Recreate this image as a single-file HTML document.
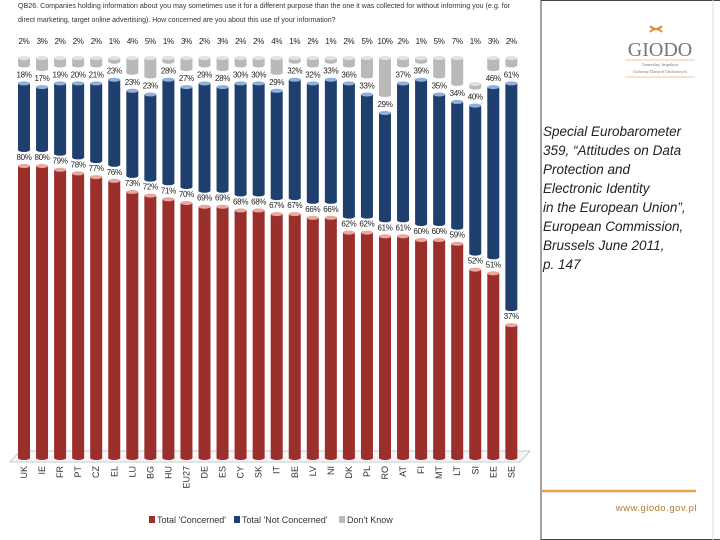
<!DOCTYPE html>
<html><head><meta charset="utf-8"><style>
body{margin:0;width:720px;height:540px;background:#fff;overflow:hidden;font-family:"Liberation Sans",sans-serif}
svg{position:absolute;left:0;top:0}
</style></head><body>
<svg width="720" height="540">
<g id="title" font-size="7" fill="#333" font-family="Liberation Sans Narrow, Liberation Sans, sans-serif">
<text x="18" y="8" textLength="492" lengthAdjust="spacingAndGlyphs">QB26. Companies holding information about you may sometimes use it for a different purpose than the one it was collected for without informing you (e.g. for</text>
<text x="18" y="22">direct marketing, target online advertising). How concerned are you about this use of your information?</text>
</g>
<polygon points="10,462 20,451 530,451 520,462" fill="#f6f6f6" stroke="#bbb" stroke-width="0.8"/>
<g id="bars"></g>
<g id="labels" font-size="8" fill="#222" letter-spacing="-0.3"></g>
<g id="xaxis" font-size="9" fill="#333"></g>
<g font-size="9" fill="#333">
<rect x="149" y="516" width="6" height="7" fill="#9b2f2c"/>
<text x="157" y="523">Total 'Concerned'</text>
<rect x="234" y="516" width="6" height="7" fill="#1f3f6e"/>
<text x="242" y="523">Total 'Not Concerned'</text>
<rect x="339" y="516" width="6" height="7" fill="#bbb"/>
<text x="347" y="523">Don't Know</text>
</g>
<line x1="541" y1="0" x2="541" y2="540" stroke="#444" stroke-width="1"/>
<line x1="541" y1="0.5" x2="720" y2="0.5" stroke="#444"/>
<line x1="541" y1="539.5" x2="720" y2="539.5" stroke="#444"/>
<line x1="713" y1="0" x2="713" y2="540" stroke="#ddd"/>
<g>
<path d="M650 26 q6 6 12 0 M650 32 q6 -6 12 0" stroke="#e08a2c" stroke-width="2" fill="none"/>
<text x="660" y="56" text-anchor="middle" font-family="Liberation Serif, serif" font-size="20" fill="#777">GIODO</text>
<line x1="625" y1="60" x2="695" y2="60" stroke="#e9b27a" stroke-width="0.7"/>
<text x="660" y="66" text-anchor="middle" font-family="Liberation Serif, serif" font-size="4.5" fill="#777">Generalny Inspektor</text>
<text x="660" y="73" text-anchor="middle" font-family="Liberation Serif, serif" font-size="4.5" fill="#777">Ochrony Danych Osobowych</text>
<line x1="625" y1="77" x2="695" y2="77" stroke="#e9b27a" stroke-width="0.7"/>
</g>
<g font-size="13.5" font-style="italic" fill="#222">
<text x="543" y="136">Special Eurobarometer</text>
<text x="543" y="155">359, “Attitudes on Data</text>
<text x="543" y="174">Protection and</text>
<text x="543" y="193">Electronic Identity</text>
<text x="543" y="212">in the European Union”,</text>
<text x="543" y="231">European Commission,</text>
<text x="543" y="250">Brussels June 2011,</text>
<text x="543" y="269">p. 147</text>
</g>
<line x1="541" y1="491" x2="696" y2="491" stroke="#e9a050" stroke-width="2.5"/>
<text x="697" y="511" text-anchor="end" font-size="9.5" fill="#b07a30" letter-spacing="0.5">www.giodo.gov.pl</text>
</svg>
<script>
const countries=["UK","IE","FR","PT","CZ","EL","LU","BG","HU","EU27","DE","ES","CY","SK","IT","BE","LV","NI","DK","PL","RO","AT","FI","MT","LT","SI","EE","SE"];
const concerned=[80,80,79,78,77,76,73,72,71,70,69,69,68,68,67,67,66,66,62,62,61,61,60,60,59,52,51,37];
const notConcerned=[18,17,19,20,21,23,23,23,28,27,29,28,30,30,29,32,32,33,36,33,29,37,39,35,34,40,46,61];
const dontKnow=[2,3,2,2,2,1,4,5,1,3,2,3,2,2,4,1,2,1,2,5,10,2,1,5,7,1,3,2];
const NS="http://www.w3.org/2000/svg";
const base=462, k=3.7, bw=12;
const xOf=i=>24+i*18.05;
const yOf=v=>base-v*k;
const bars=document.getElementById('bars'), labels=document.getElementById('labels'), xaxis=document.getElementById('xaxis');
function mk(t,a,p){const e=document.createElementNS(NS,t);for(const n in a)e.setAttribute(n,a[n]);p.appendChild(e);return e;}
function cyl(x,top,bot,col,cap,name){
  const g=mk('g',{},bars);
  
  
  mk('rect',{x:x-bw/2,y:top,width:bw,height:Math.max(0,bot-top),fill:col},g);
  mk('ellipse',{cx:x,cy:bot,rx:bw/2,ry:2,fill:col},g);
  mk('ellipse',{cx:x,cy:top,rx:bw/2,ry:2,fill:cap},g);
}
function lab(x,y,t,name){
  const e=mk('text',{x:x,y:y,'text-anchor':'middle'},labels);
  e.textContent=t;
  
  
}
countries.forEach((c,i)=>{
  const x=xOf(i);
  const rTop=yOf(concerned[i]);
  cyl(x,rTop,458,'#9b2f2c','#e8a8a0','bar-concerned-'+c.toLowerCase());
  lab(x,rTop-6,concerned[i]+'%','label-concerned-'+c.toLowerCase());
  const bBot=rTop-16, bTop=bBot-notConcerned[i]*k;
  cyl(x,bTop,bBot,'#1f3f6e','#8fb0d8','bar-not-concerned-'+c.toLowerCase());
  lab(x,bTop-6,notConcerned[i]+'%','label-not-concerned-'+c.toLowerCase());
  const gBot=bTop-18, gTop=gBot-dontKnow[i]*k;
  cyl(x,gTop,gBot,'#b9b9b9','#e2e2e2','bar-dont-know-'+c.toLowerCase());
  lab(x,44,dontKnow[i]+'%','label-dont-know-'+c.toLowerCase());
  const t=mk('text',{x:0,y:0,'text-anchor':'end',transform:`translate(${x+3},466) rotate(-90)`},xaxis);
  t.textContent=c;
  
  
});
</script>
</body></html>
